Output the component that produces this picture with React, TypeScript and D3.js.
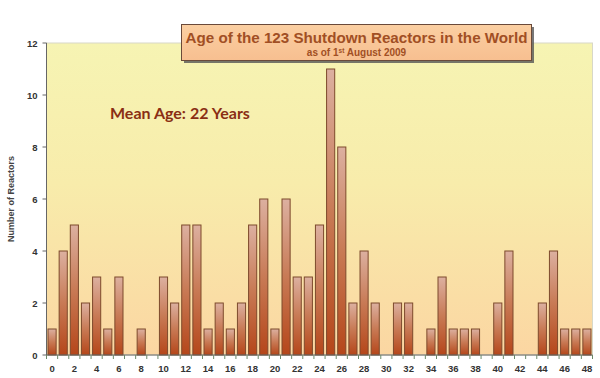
import React from "react";
import * as d3 from "d3";

const ages: number[] = Array.from({ length: 49 }, (_, i) => i);
const reactors: number[] = [
  1, 4, 5, 2, 3, 1, 3, 0, 1, 0,
  3, 2, 5, 5, 1, 2, 1, 2, 5, 6,
  1, 6, 3, 3, 5, 11, 8, 2, 4, 2,
  0, 2, 2, 0, 1, 3, 1, 1, 1, 0,
  2, 4, 0, 0, 2, 4, 1, 1, 1,
];
const yTicks: number[] = [0, 2, 4, 6, 8, 10, 12];
const xTickLabels: number[] = [0, 2, 4, 6, 8, 10, 12, 14, 16, 18, 20, 22, 24, 26, 28, 30, 32, 34, 36, 38, 40, 42, 44, 46, 48];
const titleText = "Age of the 123 Shutdown Reactors in the World";
const meanText = "Mean Age: 22 Years";
const yTitle = "Number of Reactors";

export default function App() {
  const W = 600, H = 378;
  const left = 46.5, right = 592.5, top = 43, bottom = 355;
  const x = d3.scaleBand<number>().domain(ages).range([left, right]).paddingInner(0.27).paddingOuter(0.135);
  const y = d3.scaleLinear().domain([0, 12]).range([bottom, top]);
  const step = x.step();
  const font = "Arial, 'Liberation Sans', sans-serif";
  return (
    <svg width={W} height={H} style={{ position: "absolute", left: 0, top: 0 }}>
      <defs>
        <linearGradient id="bg" x1="0" y1="0" x2="0" y2="1">
          <stop offset="0" stopColor="#f6f4b3" />
          <stop offset="0.45" stopColor="#f8ecab" />
          <stop offset="1" stopColor="#fbd6a2" />
        </linearGradient>
        <linearGradient id="bar" x1="0" y1="0" x2="0" y2="1" gradientUnits="objectBoundingBox">
          <stop offset="0" stopColor="#dcb0a0" />
          <stop offset="0.5" stopColor="#c87a55" />
          <stop offset="1" stopColor="#b5461a" />
        </linearGradient>
        <linearGradient id="tbox" x1="0" y1="0" x2="0" y2="1">
          <stop offset="0" stopColor="#fbcfa2" />
          <stop offset="1" stopColor="#f7bf90" />
        </linearGradient>
      </defs>
      <rect x={0} y={0} width={W} height={H} fill="#ffffff" />
      <rect x={left} y={top} width={right - left} height={bottom - top} fill="url(#bg)" stroke="#d8d8c8" strokeWidth={1} />
      {ages.map((a, i) =>
        reactors[i] > 0 ? (
          <rect
            key={a}
            x={x(a)!}
            y={y(reactors[i])}
            width={x.bandwidth()}
            height={bottom - y(reactors[i])}
            fill="url(#bar)"
            stroke="#7d4a2c"
            strokeWidth={1}
          />
        ) : null
      )}
      <line x1={left} x2={left} y1={top} y2={bottom} stroke="#666" strokeWidth={1} />
      {yTicks.map((t) => (
        <g key={t}>
          <line x1={left - 4} x2={left} y1={y(t)} y2={y(t)} stroke="#666" />
          <text x={left - 9} y={y(t) + 3.5} textAnchor="end" fontSize={9.5} fontWeight="bold" fontFamily={font} fill="#333">
            {t}
          </text>
        </g>
      ))}
      <line x1={left} x2={right} y1={bottom} y2={bottom} stroke="#666" strokeWidth={1} />
      {ages.concat([49]).map((a, i) => (
        <line key={i} x1={left + i * step} x2={left + i * step} y1={bottom} y2={bottom + 4} stroke="#6a8a6a" />
      ))}
      {xTickLabels.map((t) => (
        <text key={t} x={x(t)! + x.bandwidth() / 2} y={bottom + 17} textAnchor="middle" fontSize={9.5} fontWeight="bold" fontFamily={font} fill="#333">
          {t}
        </text>
      ))}
      <text transform={`translate(14,${(top + bottom) / 2}) rotate(-90)`} textAnchor="middle" fontSize={9} fontWeight="bold" fontFamily={font} fill="#444">
        {yTitle}
      </text>
      <rect x={184} y={27} width={350} height={36} fill="#555" opacity={0.8} />
      <rect x={181.5} y={24.5} width={350} height={36} fill="url(#tbox)" stroke="#6a4a3a" strokeWidth={1} />
      <text x={356.5} y={43} textAnchor="middle" fontSize={15} fontWeight="bold" fontFamily={font} fill="#a14f24" textLength={342} lengthAdjust="spacingAndGlyphs">
        {titleText}
      </text>
      <text x={356.5} y={56} textAnchor="middle" fontSize={10} fontWeight="bold" fontFamily={font} fill="#a14f24">
        as of 1<tspan fontSize={6.5} dy={-3.5}>st</tspan>
        <tspan dy={3.5}> August 2009</tspan>
      </text>
      <text x={110} y={119} fontSize={16} fontWeight="bold" fontFamily="Lato, 'Open Sans', sans-serif" fill="#8a2e14">
        {meanText}
      </text>
    </svg>
  );
}
